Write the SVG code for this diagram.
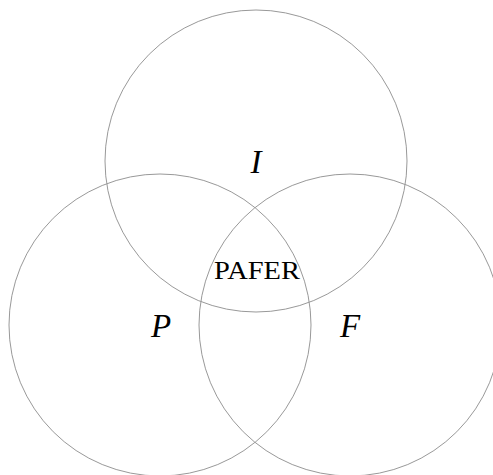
<svg xmlns="http://www.w3.org/2000/svg" width="493" height="475" viewBox="0 0 493 475">
<style>
.c{fill:none;stroke:#999;stroke-width:1}
.l{font-family:"Liberation Serif","DejaVu Serif",serif;font-style:italic;font-size:33px;fill:#000;text-anchor:middle}
.t{font-family:"Liberation Serif","DejaVu Serif",serif;font-size:26px;fill:#000;text-anchor:middle}
</style>
<rect width="493" height="475" fill="#fff"/>
<g id="I"><circle class="c" cx="256" cy="161" r="151"/><text class="l" x="256" y="173">I</text></g>
<g id="P"><circle class="c" cx="160" cy="325" r="151"/><text class="l" x="161" y="337">P</text></g>
<g id="F"><circle class="c" cx="350" cy="325" r="151"/><text class="l" x="350" y="337">F</text></g>
<g id="PAFER"><text class="t" x="257" y="279" textLength="86" lengthAdjust="spacingAndGlyphs">PAFER</text></g>
<g id="connectors"></g>
</svg>
